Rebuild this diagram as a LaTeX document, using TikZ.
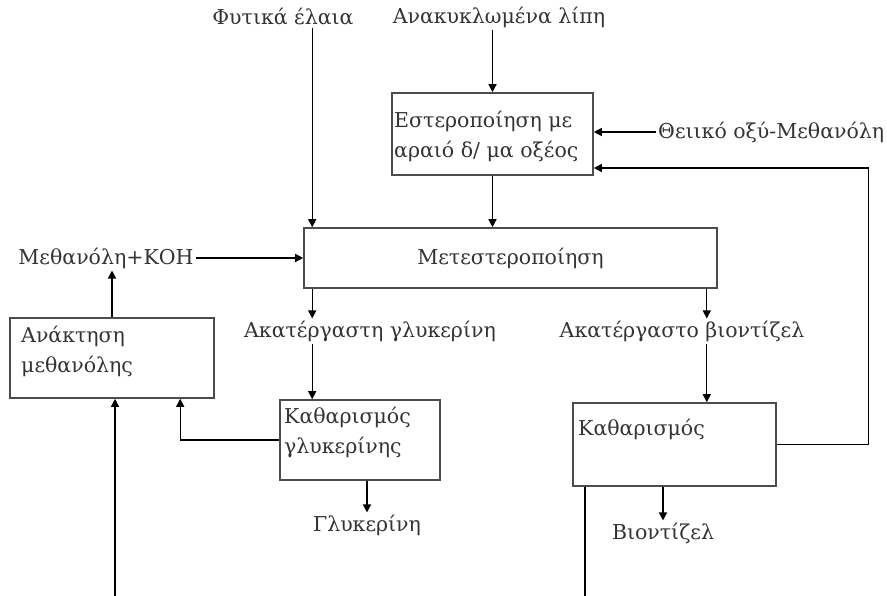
\documentclass[tikz,border=0pt]{standalone}
\usepackage{fontspec}
\setmainfont{DejaVu Serif}
\usetikzlibrary{arrows.meta,calc}

\newcommand\flowfont{\fontsize{20.5}{30}\selectfont}
\tikzset{
  box/.style={draw=black!70, line width=1.6pt, inner sep=0pt, text=black!80, font=\flowfont},
  lbl/.style={inner sep=2pt, text=black!80, font=\flowfont},
  btxt/.style={inner sep=0pt, anchor=base west, align=left, text=black!80, font=\flowfont},
  arr/.style={line width=1.3pt, -{Triangle[length=8pt,width=8pt]}},
}

\begin{document}
\begin{tikzpicture}[x=1pt,y=-1pt]
\path[use as bounding box, clip] (0,0) rectangle (887,596);

% process boxes
\node[box, minimum width=201pt, minimum height=82pt] (est) at (492.5,134) {};
\node[box, minimum width=413pt, minimum height=60pt] (met) at (510.5,258) {Μετεστεροποίηση};
\node[box, minimum width=204pt, minimum height=80pt] (rec) at (112,358) {};
\node[box, minimum width=160pt, minimum height=80pt] (gly) at (360,440) {};
\node[box, minimum width=203pt, minimum height=83pt] (pur) at (674.5,444.5) {};

% box captions (anchored at the baseline of the last line)
\node[btxt] (estt) at (394,158) {Εστεροποίηση με\\αραιό δ/ μα οξέος};
\node[btxt] (rect) at (21,373) {Ανάκτηση\\μεθανόλης};
\node[btxt] (glyt) at (284,453) {Καθαρισμός\\γλυκερίνης};
\node[btxt] (purt) at (578,435) {Καθαρισμός};

% stream labels
\node[lbl] (veg)  at (283,17)  {Φυτικά έλαια};
\node[lbl] (rfat) at (499,17)  {Ανακυκλωμένα λίπη};
\node[lbl, anchor=west] (acid) at (656,132) {Θειικό οξύ-Μεθανόλη};
\node[lbl] (mkoh) at (106,258) {Μεθανόλη+ΚΟΗ};
\node[lbl] (cgly) at (370,331) {Ακατέργαστη γλυκερίνη};
\node[lbl] (cbio) at (682,331) {Ακατέργαστο βιοντίζελ};
\node[lbl] (glyc) at (367,525) {Γλυκερίνη};
\node[lbl] (bio)  at (663,533) {Βιοντίζελ};

% helper coordinates for off-centre connectors
\coordinate (vin)  at ($(met.north west)+(9,0)$);
\coordinate (bout) at ($(met.south east)+(-11,0)$);
\coordinate (ret)  at ($(rec.south west)+(171,0)$);
\coordinate (fb)   at ($(est.east)+(0,34)$);
\coordinate (lowL) at (115,605);
\coordinate (lowR) at (585,605);

% feeds
\draw[arr] (vin |- veg.south) -- (vin);
\draw[arr] (est.north |- rfat.south) -- (est.north);
\draw[arr] (acid.west) -- (acid.west -| est.east);
\draw[arr] (est.south) -- (est.south |- met.north);
\draw[arr] (mkoh.east) -- (mkoh.east -| met.west);
\draw[arr] (rec.north) -- (rec.north |- mkoh.south);

% glycerol side
\draw[arr] (vin |- met.south) -- (vin |- cgly.north);
\draw[arr] (vin |- cgly.south) -- (vin |- gly.north);
\draw[arr] (gly.west) -| (ret);
\draw[arr] (glyc.north |- gly.south) -- (glyc.north);

% biodiesel side
\draw[arr] (bout) -- (bout |- cbio.north);
\draw[arr] (bout |- cbio.south) -- (bout |- pur.north);
\draw[arr] (bio.north |- pur.south) -- (bio.north);

% recycle loops
\draw[arr] (pur.east) -| ($(fb)+(275,0)$) -- (fb);
\draw[arr] (lowR |- pur.south) -- (lowR) -- (lowL) -- (lowL |- rec.south);
\end{tikzpicture}
\end{document}
